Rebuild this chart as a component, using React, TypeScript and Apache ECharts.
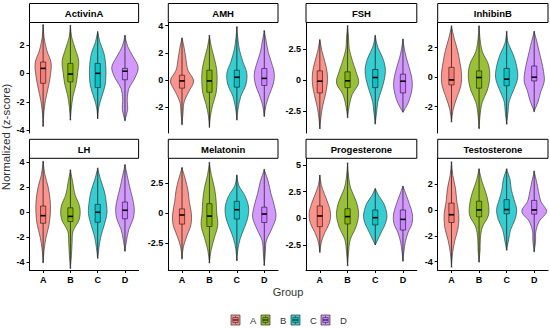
import React, { useEffect, useRef } from "react";
import * as echarts from "echarts";

// ---------- data ----------
const GROUPS = ["A", "B", "C", "D"];
const COLORS = ["#F8766D", "#7CAE00", "#00BFC4", "#C77CFF"];
const HORMONES = ["ActivinA", "AMH", "FSH", "InhibinB", "LH", "Melatonin", "Progesterone", "Testosterone"];

// y-axis extents and tick values per panel
const Y_RANGES = [[-4.2, 3.58], [-3.9, 4.23], [-4.28, 4.68], [-3.78, 3.71], [-4.62, 4.32], [-4.72, 4.58], [-4.84, 5.62], [-4.65, 4.0]];
const Y_TICKS = [[-4, -2, 0, 2], [-2, 0, 2, 4], [-2.5, 0, 2.5], [-2, 0, 2], [-4, -2, 0, 2, 4], [-2.5, 0, 2.5], [-2.5, 0, 2.5, 5], [-4, -2, 0, 2]];

// per hormone: data extremes [min, max], box [q1, median, q3], density profile (relative units,
// read at 9 evenly spaced levels from min to max)
const ACTIVINA_EXT = [[-3.7, 3.4], [-3.25, 3.35], [-3.2, 2.95], [-3.3, 2.65]];
const ACTIVINA_BOX = [[-0.7, 0.35, 0.8], [-0.6, -0.05, 0.7], [-1.0, 0.0, 0.7], [-0.45, 0.15, 0.35]];
const ACTIVINA_DENS = [[0, 2, 7, 15, 22, 24, 11, 3, 0], [0, 3, 8, 17, 22, 25, 15, 4, 0], [0, 3, 12, 22, 25, 24, 19, 7, 0], [0, 8, 7, 12, 30, 40, 25, 8, 0]];

const AMH_EXT = [[-3.25, 3.1], [-3.5, 3.25], [-2.9, 3.9], [-2.65, 3.6]];
const AMH_BOX = [[-0.6, -0.07, 0.35], [-0.9, -0.07, 0.72], [-0.53, 0.2, 0.72], [-0.4, 0.12, 0.85]];
const AMH_DENS = [[0, 3, 6, 20, 35, 18, 12, 7, 0], [0, 3, 10, 20, 23, 22, 15, 6, 0], [0, 4, 12, 27, 30, 18, 8, 3, 0], [0, 5, 15, 27, 30, 22, 12, 6, 0]];

const FSH_EXT = [[-3.95, 3.3], [-3.0, 4.4], [-3.5, 3.6], [-2.6, 3.3]];
const FSH_BOX = [[-1.03, -0.08, 0.76], [-0.6, -0.05, 0.68], [-0.6, 0.22, 0.87], [-1.03, -0.08, 0.49]];
const FSH_DENS = [[0, 3, 8, 16, 22, 22, 15, 6, 0], [0, 5, 14, 33, 25, 14, 5, 3, 0], [0, 4, 8, 18, 27, 30, 22, 7, 0], [0, 15, 24, 28, 25, 18, 10, 4, 0]];

const INHIBINB_EXT = [[-3.0, 3.45], [-3.45, 3.45], [-3.15, 3.08], [-2.3, 3.08]];
const INHIBINB_BOX = [[-0.52, -0.18, 0.67], [-0.74, -0.02, 0.43], [-0.58, -0.13, 0.6], [-0.25, 0.0, 0.76]];
const INHIBINB_DENS = [[0, 5, 16, 28, 30, 25, 18, 8, 0], [0, 3, 9, 25, 32, 28, 10, 3, 0], [0, 4, 8, 22, 33, 30, 20, 5, 0], [0, 12, 20, 30, 28, 22, 15, 8, 0]];

const LH_EXT = [[-4.0, 4.05], [-4.45, 3.37], [-3.7, 3.5], [-3.07, 3.78]];
const LH_BOX = [[-0.88, -0.27, 0.5], [-0.74, -0.33, 0.36], [-0.8, 0.0, 0.63], [-0.52, 0.16, 0.82]];
const LH_DENS = [[0, 3, 9, 18, 22, 21, 15, 5, 0], [0, 3, 5, 8, 27, 28, 14, 7, 0], [0, 4, 10, 20, 28, 26, 20, 9, 0], [0, 5, 12, 25, 28, 22, 14, 7, 0]];

const MELATONIN_EXT = [[-3.75, 3.78], [-4.1, 4.2], [-3.9, 3.2], [-4.3, 3.63]];
const MELATONIN_BOX = [[-0.9, -0.14, 0.37], [-1.1, -0.23, 0.8], [-0.48, 0.3, 1.0], [-0.77, -0.06, 0.51]];
const MELATONIN_DENS = [[0, 4, 15, 27, 28, 22, 18, 10, 0], [0, 5, 15, 25, 22, 20, 15, 6, 0], [0, 3, 10, 22, 33, 35, 25, 6, 0], [0, 3, 6, 22, 35, 30, 20, 12, 0]];

const PROGESTERONE_EXT = [[-3.2, 4.06], [-4.4, 5.15], [-2.5, 2.8], [-3.97, 3.03]];
const PROGESTERONE_BOX = [[-0.78, 0.22, 1.16], [-0.53, 0.16, 0.9], [-0.62, 0.06, 0.78], [-1.1, -0.1, 0.78]];
const PROGESTERONE_DENS = [[0, 4, 14, 28, 32, 25, 14, 4, 0], [0, 3, 8, 25, 33, 26, 10, 3, 0], [0, 10, 20, 30, 35, 32, 24, 10, 0], [0, 3, 7, 15, 27, 28, 20, 10, 0]];

const TESTOSTERONE_EXT = [[-4.4, 3.7], [-4.0, 3.15], [-3.08, 3.15], [-3.2, 2.97]];
const TESTOSTERONE_BOX = [[-0.97, -0.37, 0.53], [-0.53, 0.0, 0.68], [-0.3, 0.03, 0.8], [-0.32, 0.0, 0.74]];
const TESTOSTERONE_DENS = [[0, 3, 10, 20, 22, 16, 12, 4, 0], [0, 3, 4, 10, 28, 28, 20, 8, 0], [0, 6, 12, 25, 30, 22, 14, 10, 0], [0, 4, 5, 15, 37, 20, 13, 7, 0]];

const EXTS = [ACTIVINA_EXT, AMH_EXT, FSH_EXT, INHIBINB_EXT, LH_EXT, MELATONIN_EXT, PROGESTERONE_EXT, TESTOSTERONE_EXT];
const BOXES = [ACTIVINA_BOX, AMH_BOX, FSH_BOX, INHIBINB_BOX, LH_BOX, MELATONIN_BOX, PROGESTERONE_BOX, TESTOSTERONE_BOX];
const DENSITIES = [ACTIVINA_DENS, AMH_DENS, FSH_DENS, INHIBINB_DENS, LH_DENS, MELATONIN_DENS, PROGESTERONE_DENS, TESTOSTERONE_DENS];

// ---------- layout ----------
const W = 550;
const H = 329;
const PANEL_LEFT = [29.5, 168.3, 306, 437.7];
const PANEL_RIGHT = [138.6, 278, 416.8, 548];
const ROW_TOP = [22.5, 158.3];
const ROW_BOTTOM = [133, 270];
const STRIP_TOP = [3.5, 139.3];
const DENS_SCALE = 1 / 82.5; // density unit -> fraction of band width (half width)
const BOX_FRAC = 0.19;
const FONT = "Liberation Sans, Arial, Helvetica, sans-serif";
const LEG_X = [231, 261, 291, 321];
const LEG_Y = 315;

function rgba(hex: string, a: number) {
  const r = parseInt(hex.slice(1, 3), 16);
  const g = parseInt(hex.slice(3, 5), 16);
  const b = parseInt(hex.slice(5, 7), 16);
  return `rgba(${r},${g},${b},${a})`;
}

function buildOption() {
  const grid: any[] = [];
  const xAxis: any[] = [];
  const yAxis: any[] = [];
  const series: any[] = [];
  const graphic: any[] = [];

  HORMONES.forEach((name, i) => {
    const row = Math.floor(i / 4);
    const col = i % 4;
    const left = PANEL_LEFT[col];
    const width = PANEL_RIGHT[col] - left;
    const top = ROW_TOP[row];
    const height = ROW_BOTTOM[row] - top;
    const bottomRow = row === 1;
    grid.push({ left, top, width, height, containLabel: false });
    xAxis.push({
      gridIndex: i,
      type: "category",
      data: GROUPS,
      boundaryGap: true,
      axisLine: { show: bottomRow, onZero: false, lineStyle: { color: "#000", width: 1 } },
      axisTick: { show: bottomRow, alignWithLabel: true, length: 3, lineStyle: { color: "#000", width: 1 } },
      axisLabel: { show: bottomRow, color: "#000", fontWeight: "bold", fontSize: 9, margin: 5, fontFamily: FONT },
      splitLine: { show: false },
    });
    yAxis.push({
      gridIndex: i,
      type: "value",
      min: Y_RANGES[i][0],
      max: Y_RANGES[i][1],
      axisLine: { show: true, onZero: false, lineStyle: { color: "#000", width: 1 } },
      axisTick: { show: true, length: 3, customValues: Y_TICKS[i], lineStyle: { color: "#000", width: 1 } },
      axisLabel: { customValues: Y_TICKS[i], color: "#000", fontWeight: "bold", fontSize: 9, margin: 5, fontFamily: FONT },
      splitLine: { show: false },
    });

    const ext = EXTS[i];
    const boxes = BOXES[i];
    const dens = DENSITIES[i];
    series.push({
      type: "custom",
      xAxisIndex: i,
      yAxisIndex: i,
      encode: { x: 0, y: [1, 2] },
      data: GROUPS.map((_, j) => [j, ext[j][0], ext[j][1]]),
      renderItem: (params: any, api: any) => {
        const j = api.value(0);
        const lo = api.value(1);
        const hi = api.value(2);
        const [q1, med, q3] = boxes[j];
        const d = dens[j];
        const band = api.size([1, 0])[0];
        const cx = api.coord([j, 0])[0];
        const yOf = (v: number) => api.coord([j, v])[1];
        const n = d.length;
        const right: number[][] = [];
        const leftPts: number[][] = [];
        for (let k = 0; k < n; k++) {
          const v = lo + ((hi - lo) * k) / (n - 1);
          const hw = d[k] * DENS_SCALE * band;
          right.push([cx + hw, yOf(v)]);
        }
        for (let k = n - 1; k >= 0; k--) {
          const v = lo + ((hi - lo) * k) / (n - 1);
          const hw = d[k] * DENS_SCALE * band;
          leftPts.push([cx - hw, yOf(v)]);
        }
        const iqr = q3 - q1;
        const wLo = Math.max(lo, q1 - 1.5 * iqr);
        const wHi = Math.min(hi, q3 + 1.5 * iqr);
        const bw = band * BOX_FRAC;
        const color = COLORS[j];
        const children: any[] = [
          {
            type: "polygon",
            shape: { points: right.concat(leftPts), smooth: 0.35 },
            style: { fill: rgba(color, 0.78), stroke: "#262626", lineWidth: 0.6 },
          },
          {
            type: "line",
            shape: { x1: cx, y1: yOf(wLo), x2: cx, y2: yOf(q1) },
            style: { stroke: "#111", lineWidth: 0.7 },
          },
          {
            type: "line",
            shape: { x1: cx, y1: yOf(q3), x2: cx, y2: yOf(wHi) },
            style: { stroke: "#111", lineWidth: 0.7 },
          },
          {
            type: "rect",
            shape: { x: cx - bw / 2, y: yOf(q3), width: bw, height: yOf(q1) - yOf(q3) },
            style: { fill: rgba(color, 0.78), stroke: "#111", lineWidth: 0.6 },
          },
          {
            type: "line",
            shape: { x1: cx - bw / 2, y1: yOf(med), x2: cx + bw / 2, y2: yOf(med) },
            style: { stroke: "#000", lineWidth: 1.6 },
          },
        ];
        [lo, hi].forEach((v) => {
          if (v < wLo || v > wHi) {
            const lineEnd = v < wLo ? wLo : wHi;
            children.push({
              type: "line",
              shape: { x1: cx, y1: yOf(lineEnd), x2: cx, y2: yOf(v) },
              style: { stroke: "rgba(40,40,40,0.75)", lineWidth: 1.1 },
            });
            children.push({
              type: "circle",
              shape: { cx, cy: yOf(v), r: 0.9 },
              style: { fill: "rgba(60,60,60,0.7)" },
            });
          }
        });
        return { type: "group", children };
      },
    });

    // facet strip
    const stripTop = STRIP_TOP[row];
    const stripH = top - stripTop;
    graphic.push({
      type: "rect",
      shape: { x: left, y: stripTop, width, height: stripH },
      style: { fill: "#fff", stroke: "#000", lineWidth: 1 },
    });
    graphic.push({
      type: "text",
      x: left + width / 2,
      y: stripTop + stripH / 2 + 0.5,
      style: {
        text: name,
        fill: "#000",
        font: `bold 9.5px ${FONT}`,
        textAlign: "center",
        textVerticalAlign: "middle",
      },
    });
  });

  // axis titles
  graphic.push({
    type: "text",
    x: 6,
    y: 137,
    rotation: Math.PI / 2,
    style: {
      text: "Normalized (z-score)",
      fill: "#333",
      font: `11.5px ${FONT}`,
      textAlign: "center",
      textVerticalAlign: "middle",
    },
  });
  graphic.push({
    type: "text",
    x: 288,
    y: 292,
    style: {
      text: "Group",
      fill: "#333",
      font: `11px ${FONT}`,
      textAlign: "center",
      textVerticalAlign: "middle",
    },
  });

  // legend
  GROUPS.forEach((g, j) => {
    const x = LEG_X[j];
    const y = LEG_Y;
    const c = COLORS[j];
    graphic.push({
      type: "rect",
      shape: { x, y, width: 9, height: 10 },
      style: { fill: rgba(c, 0.8), stroke: "#333", lineWidth: 0.7 },
    });
    graphic.push({
      type: "rect",
      shape: { x: x + 1.8, y: y + 2.5, width: 5.4, height: 5 },
      style: { fill: rgba(c, 0.9), stroke: "#333", lineWidth: 0.6 },
    });
    graphic.push({
      type: "line",
      shape: { x1: x + 1.8, y1: y + 5, x2: x + 7.2, y2: y + 5 },
      style: { stroke: "#222", lineWidth: 1.2 },
    });
    graphic.push({
      type: "line",
      shape: { x1: x + 4.5, y1: y + 0.8, x2: x + 4.5, y2: y + 2.5 },
      style: { stroke: "#333", lineWidth: 0.6 },
    });
    graphic.push({
      type: "line",
      shape: { x1: x + 4.5, y1: y + 7.5, x2: x + 4.5, y2: y + 9.2 },
      style: { stroke: "#333", lineWidth: 0.6 },
    });
    graphic.push({
      type: "text",
      x: x + 19,
      y: y + 5.5,
      style: {
        text: g,
        fill: "#333",
        font: `9.5px ${FONT}`,
        textAlign: "left",
        textVerticalAlign: "middle",
      },
    });
  });

  return {
    animation: false,
    backgroundColor: "#fff",
    grid,
    xAxis,
    yAxis,
    series,
    graphic,
  };
}

export default function App() {
  const ref = useRef<HTMLDivElement>(null);
  useEffect(() => {
    document.body.style.margin = "0";
    if (!ref.current) return;
    const chart = echarts.init(ref.current, undefined, { renderer: "svg", width: W, height: H });
    chart.setOption(buildOption() as any);
    return () => chart.dispose();
  }, []);
  return <div ref={ref} style={{ width: W, height: H }} />;
}
